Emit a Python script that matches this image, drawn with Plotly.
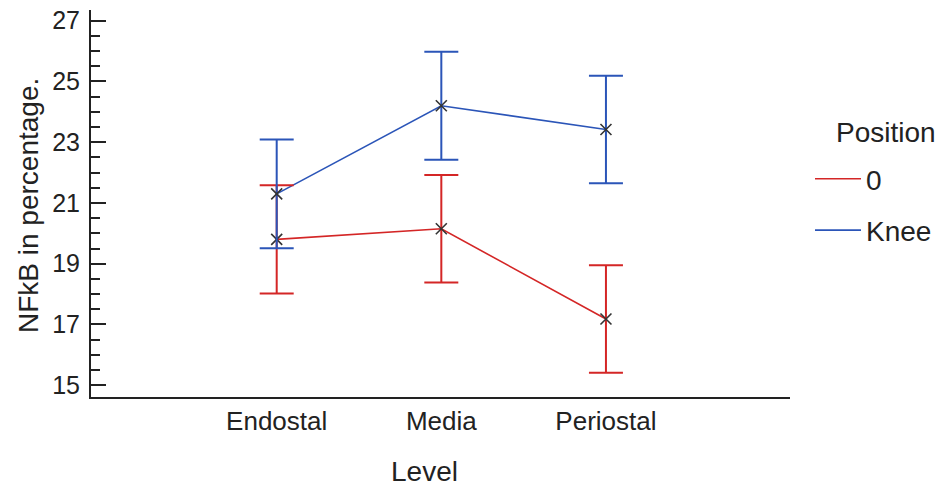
import plotly.graph_objects as go

levels = ["Endostal", "Media", "Periostal"]
pos_0_mean = [19.80, 20.15, 17.18]
pos_0_err = [1.78, 1.77, 1.77]
knee_mean = [21.30, 24.20, 23.42]
knee_err = [1.79, 1.78, 1.77]
y_ticks = [15, 17, 19, 21, 23, 25, 27]

RED = "#d42626"
BLUE = "#2b55b8"
FONT = "Liberation Sans, Arial, sans-serif"

x_idx = list(range(len(levels)))

fig = go.Figure()
series = [("0", pos_0_mean, pos_0_err, RED, "a"),
          ("Knee", knee_mean, knee_err, BLUE, "b")]
# connecting lines (these carry the legend entries)
for name, mean, err, col, grp in series:
    fig.add_trace(go.Scatter(
        x=x_idx, y=mean, name=name, legendgroup=grp,
        mode="lines", line=dict(color=col, width=1.6),
    ))
# means with error bars
for name, mean, err, col, grp in series:
    fig.add_trace(go.Scatter(
        x=x_idx, y=mean, name=name, legendgroup=grp, showlegend=False,
        mode="markers",
        marker=dict(symbol="x-thin-open", size=11, color="#333333",
                    line=dict(color="#333333", width=1.6)),
        error_y=dict(type="data", array=err, visible=True,
                     color=col, thickness=2, width=17),
    ))

fig.update_layout(
    width=950, height=486,
    margin=dict(l=91, r=160, t=10, b=89, autoexpand=False),
    paper_bgcolor="white", plot_bgcolor="white",
    font=dict(family=FONT, size=26, color="#222222"),
    showlegend=True,
    legend=dict(
        x=810 / 950, xref="container", xanchor="left",
        y=1 - 154 / 486, yref="container", yanchor="top",
        font=dict(size=28),
        itemwidth=46,
        tracegroupgap=12,
        traceorder="grouped",
        bgcolor="rgba(0,0,0,0)",
    ),
    xaxis=dict(
        tickmode="array", tickvals=x_idx, ticktext=levels,
        range=[-1.128, 3.118],
        showgrid=False, zeroline=False,
        showline=True, linecolor="#222222", linewidth=2,
        ticks="", tickfont=dict(size=26),
    ),
    yaxis=dict(
        tickmode="array", tickvals=y_ticks,
        range=[14.613, 27.352],
        showgrid=False, zeroline=False,
        showline=True, linecolor="#222222", linewidth=2,
        ticks="inside", ticklen=15, tickwidth=2, tickcolor="#222222",
        minor=dict(dtick=0.5, tick0=15, ticks="inside", ticklen=9,
                   tickwidth=2, tickcolor="#222222", showgrid=False),
        tickfont=dict(size=25),
        ticklabelstandoff=4,
    ),
    annotations=[
        dict(text="NFkB in percentage.", textangle=-90,
             xref="paper", yref="paper", x=(28 - 91) / 699, y=(397 - 206) / 387,
             xanchor="center", yanchor="middle", showarrow=False,
             font=dict(size=28)),
        dict(text="Level", xref="paper", yref="paper",
             x=(424 - 91) / 699, y=(397 - 471) / 387,
             xanchor="center", yanchor="middle", showarrow=False,
             font=dict(size=28)),
        dict(text="Position", xref="paper", yref="paper",
             x=(886 - 91) / 699, y=(397 - 132) / 387,
             xanchor="center", yanchor="middle", showarrow=False,
             font=dict(size=28)),
    ],
)

fig.write_html("out.html", config={"displayModeBar": False},
               post_script="document.body.style.margin='0';")
